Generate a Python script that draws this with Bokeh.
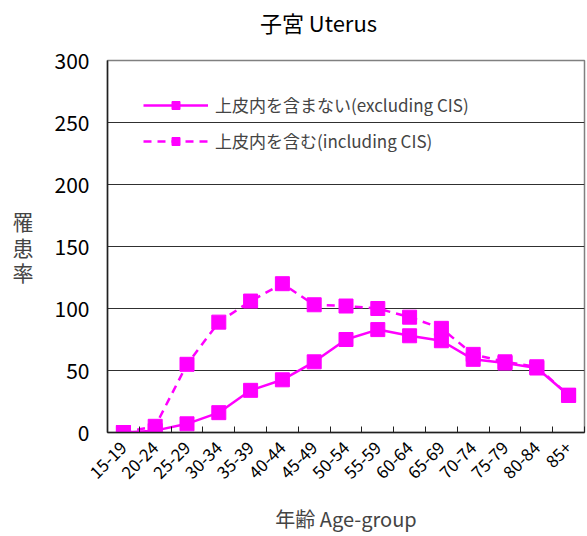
import math
from bokeh.plotting import figure
from bokeh.layouts import column
from bokeh.models import FixedTicker, Legend, LegendItem, Range1d, Div
from bokeh.embed import file_html
from bokeh.resources import INLINE

categories = ["15-19", "20-24", "25-29", "30-34", "35-39", "40-44", "45-49",
              "50-54", "55-59", "60-64", "65-69", "70-74", "75-79", "80-84", "85+"]
excluding_cis = [0, 1.5, 7, 16, 34, 42.5, 57, 75, 83, 78, 74, 59, 56, 52, 30]
including_cis = [0, 5, 55, 89, 106, 120, 103, 102, 100, 93, 84, 63, 57, 53, 30]
y_ticks = [0, 50, 100, 150, 200, 250, 300]
title_text = "子宮 Uterus"

FONT = "Noto Sans CJK JP"
MAG = "#FF00FF"

xs = list(range(len(categories)))

title_div = Div(text=title_text, width=587, height=44,
                styles={"font-family": FONT, "font-size": "22px", "color": "black",
                        "text-align": "center", "line-height": "44px",
                        "padding-left": "50px", "box-sizing": "border-box",
                        "width": "587px", "margin": "0"})

p = figure(width=587, height=492, output_backend="svg", toolbar_location=None,
           x_range=Range1d(-0.5, len(categories) - 0.5), y_range=Range1d(0, 300),
           min_border_left=107, min_border_right=3, min_border_top=16, min_border_bottom=104)

p.outline_line_color = "#808080"
p.outline_line_width = 1.5

# grids
p.xgrid.grid_line_color = None
p.ygrid.grid_line_color = "#303030"
p.ygrid.grid_line_width = 1
p.ygrid.ticker = FixedTicker(ticks=y_ticks)

# y axis
p.yaxis.ticker = FixedTicker(ticks=y_ticks)
p.yaxis.major_tick_line_color = None
p.yaxis.minor_tick_line_color = None
p.yaxis.axis_line_color = "#202020"
p.yaxis.axis_line_width = 1.5
p.yaxis.major_label_text_font = FONT
p.yaxis.major_label_text_font_size = "21px"
p.yaxis.major_label_text_color = "black"
p.yaxis.major_label_standoff = 12
p.yaxis.axis_label = "罹\n患\n率"
p.yaxis.axis_label_orientation = "horizontal"
p.yaxis.axis_label_text_font = FONT
p.yaxis.axis_label_text_font_size = "21px"
p.yaxis.axis_label_text_font_style = "normal"
p.yaxis.axis_label_text_line_height = 0.85
p.yaxis.axis_label_standoff = 18

# x axis
p.xaxis.ticker = FixedTicker(ticks=xs, minor_ticks=[i - 0.5 for i in range(len(categories) + 1)])
p.xaxis.major_label_overrides = {i: c for i, c in enumerate(categories)}
p.xaxis.major_tick_line_color = None
p.xaxis.minor_tick_line_color = "#202020"
p.xaxis.minor_tick_in = 6
p.xaxis.minor_tick_out = 0
p.xaxis.axis_line_color = "#202020"
p.xaxis.axis_line_width = 1.5
p.xaxis.major_label_orientation = math.pi / 4
p.xaxis.major_label_text_font = FONT
p.xaxis.major_label_text_font_size = "17px"
p.xaxis.major_label_text_color = "black"
p.xaxis.major_label_standoff = 6
p.xaxis.axis_label = "年齢 Age-group"
p.xaxis.axis_label_text_font = FONT
p.xaxis.axis_label_text_font_size = "20px"
p.xaxis.axis_label_text_font_style = "normal"
p.xaxis.axis_label_standoff = 16

l1 = p.line(xs, excluding_cis, line_color=MAG, line_width=2.5)
s1 = p.scatter(xs, excluding_cis, marker="square", size=14, fill_color=MAG, line_color=MAG)
l2 = p.line(xs, including_cis, line_color=MAG, line_width=2.5, line_dash="8 6")
s2 = p.scatter(xs, including_cis, marker="square", size=14, fill_color=MAG, line_color=MAG)

legend = Legend(items=[
    LegendItem(label="上皮内を含まない(excluding CIS)", renderers=[l1, s1]),
    LegendItem(label="上皮内を含む(including CIS)", renderers=[l2, s2]),
], location=(36, 279))
legend.border_line_color = None
legend.background_fill_alpha = 0
legend.padding = 0
legend.spacing = 11
legend.glyph_height = 20
legend.glyph_width = 65
legend.label_standoff = 7
legend.label_text_font = FONT
legend.label_text_font_size = "17px"
legend.label_height = 20
p.add_layout(legend, "center")

layout = column(title_div, p, spacing=0)

open("out.html", "w").write(file_html(layout, INLINE))
